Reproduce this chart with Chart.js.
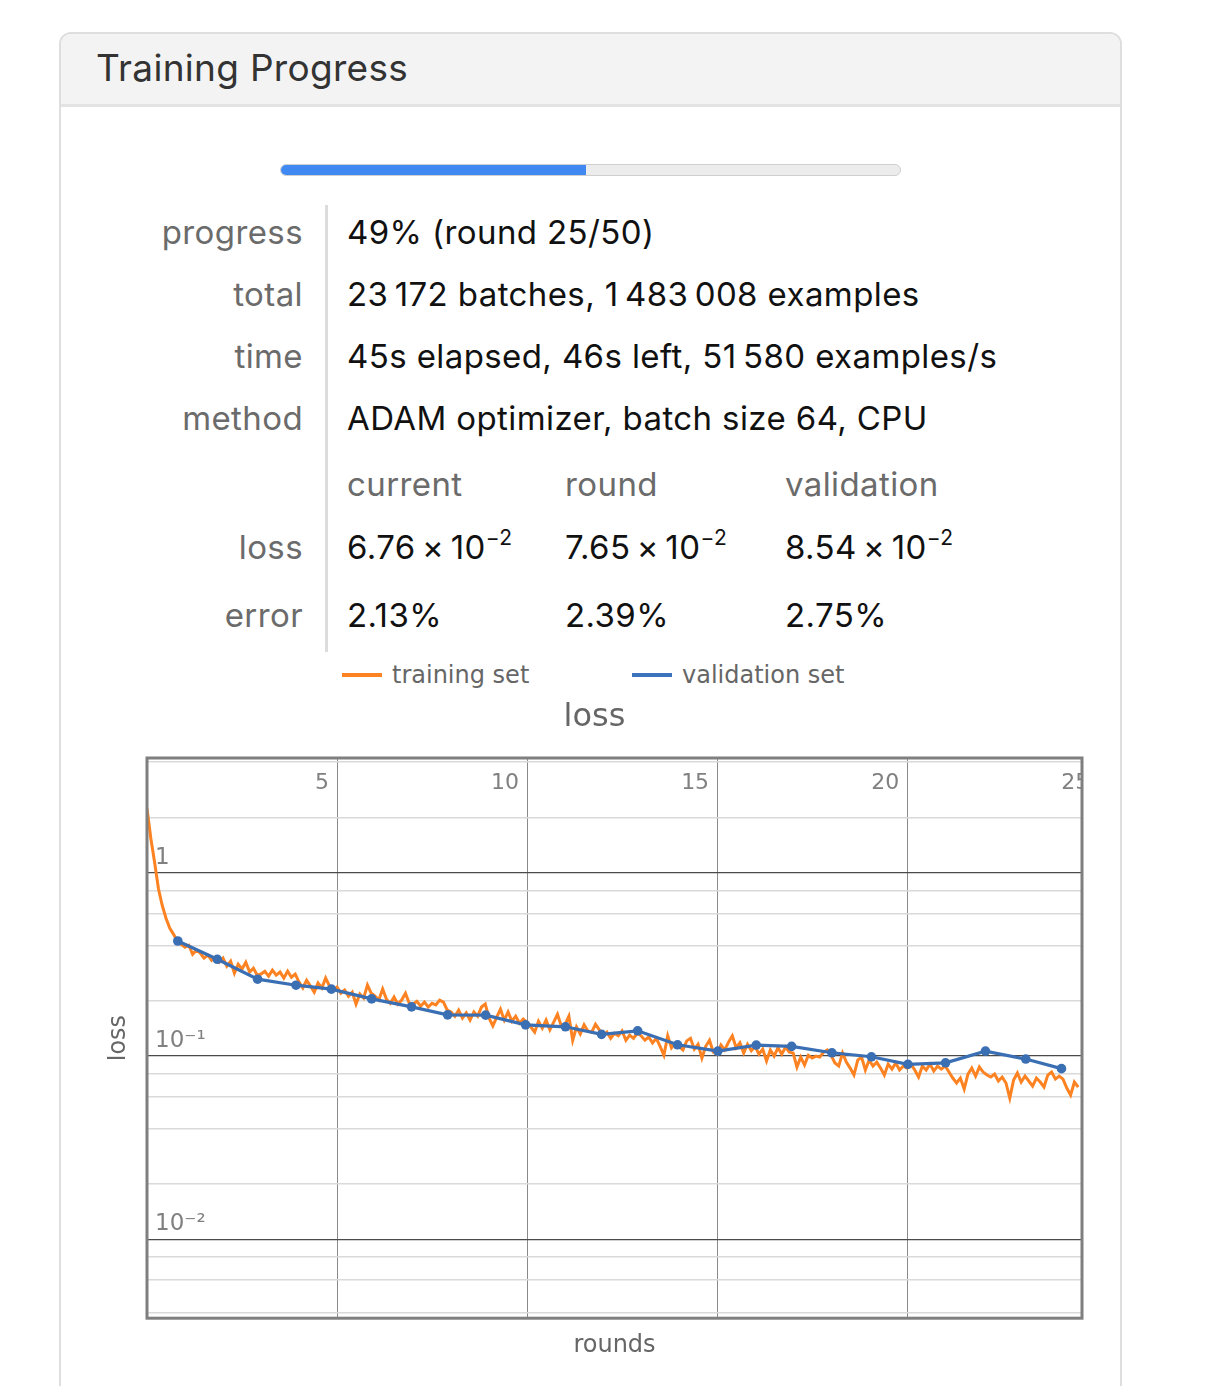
<!DOCTYPE html>
<html>
<head>
<meta charset="utf-8">
<script src="https://cdn.jsdelivr.net/npm/chart.js@4.4.1/dist/chart.umd.min.js"></script>
<style>
  body { margin: 0; background: #fff; width: 1222px; height: 1386px; overflow: hidden; position: relative;
         font-family: Inter, "Noto Sans", sans-serif; }
  .card { position: absolute; left: 59px; top: 32px; width: 1059px; height: 1400px;
          border: 2px solid #dedede; border-radius: 12px; background: #fff; overflow: hidden; }
  .head { height: 70px; background: #f3f3f3; border-bottom: 3px solid #e3e3e3; }
  .head span { position: absolute; left: 35px; top: 11px; font-size: 37px; letter-spacing: 0.3px; color: #333; }
  .track { position: absolute; left: 280px; top: 164px; width: 619px; height: 10px;
           background: #ececec; border: 1px solid #cfcfcf; border-radius: 6px; overflow: hidden; }
  .fill { width: 49.3%; height: 100%; background: #4088f2; }
  .lbl, .val { position: absolute; height: 40px; line-height: 40px; font-size: 33px; letter-spacing: 0.4px; white-space: nowrap; }
  .lbl { left: 60px; width: 243px; text-align: right; color: #6b6b6b; }
  .val { color: #111; }
  .hdr { color: #6b6b6b; }
  .val sup { font-size: 21px; vertical-align: 14px; line-height: 0; }
  .divider { position: absolute; left: 325px; top: 205px; width: 3px; height: 447px; background: #dcdcdc; }
  .leg { position: absolute; top: 659px; height: 32px; line-height: 32px; font-family: "DejaVu Sans"; font-size: 24px;
         color: #666; white-space: nowrap; width: 260px; }
  .leg i { position: absolute; top: 14px; width: 40px; height: 4px; }
  .leg span { position: absolute; left: 50px; }
  #wrap { position: absolute; left: 107px; top: 702px; width: 990px; height: 658px; }
</style>
</head>
<body>
<div class="card"><div class="head"><span>Training Progress</span></div></div>
<div class="track"><div class="fill"></div></div>

<div class="divider"></div>
<div class="lbl" style="top:212px">progress</div>
<div class="val" style="left:347px;top:212px">49% (round 25/50)</div>
<div class="lbl" style="top:274px">total</div>
<div class="val" style="left:347px;top:274px">23&#8201;172 batches, 1&#8201;483&#8201;008 examples</div>
<div class="lbl" style="top:336px">time</div>
<div class="val" style="left:347px;top:336px">45s elapsed, 46s left, 51&#8201;580 examples/s</div>
<div class="lbl" style="top:398px">method</div>
<div class="val" style="left:347px;top:398px">ADAM optimizer, batch size 64, CPU</div>

<div class="val hdr" style="left:347px;top:464px">current</div>
<div class="val hdr" style="left:565px;top:464px">round</div>
<div class="val hdr" style="left:785px;top:464px">validation</div>

<div class="lbl" style="top:527px">loss</div>
<div class="val" style="left:347px;top:527px">6.76&#8201;×&#8201;10<sup>−2</sup></div>
<div class="val" style="left:565px;top:527px">7.65&#8201;×&#8201;10<sup>−2</sup></div>
<div class="val" style="left:785px;top:527px">8.54&#8201;×&#8201;10<sup>−2</sup></div>

<div class="lbl" style="top:595px">error</div>
<div class="val" style="left:347px;top:595px">2.13%</div>
<div class="val" style="left:565px;top:595px">2.39%</div>
<div class="val" style="left:785px;top:595px">2.75%</div>

<div class="leg" style="left:342px"><i style="background:#fd8221"></i><span>training set</span></div>
<div class="leg" style="left:632px"><i style="background:#3b74bd"></i><span>validation set</span></div>

<div id="wrap"><canvas id="lossChart"></canvas></div>

<script>
// training loss, one reading every 0.1 round
const trainStep = 0.1;
const trainLoss = [
  2.24, 1.54, 1.14, 0.82, 0.664, 0.564, 0.497, 0.461,
  0.423, 0.407, 0.392, 0.402, 0.359, 0.378, 0.364, 0.342, 0.355, 0.333, 0.346,
  0.325, 0.342, 0.309, 0.329, 0.283, 0.317, 0.298, 0.325, 0.287, 0.301, 0.276,
  0.280, 0.290, 0.273, 0.294, 0.276, 0.287, 0.266, 0.290, 0.269, 0.280,
  0.253, 0.235, 0.259, 0.241, 0.223, 0.250, 0.235, 0.266, 0.241,
  0.229, 0.238, 0.220, 0.229, 0.212, 0.223, 0.192, 0.218, 0.207, 0.244, 0.220,
  0.212, 0.202, 0.232, 0.204, 0.194, 0.210, 0.192, 0.202, 0.220, 0.194,
  0.192, 0.199, 0.187, 0.197, 0.185, 0.194, 0.190, 0.202, 0.197, 0.178,
  0.174, 0.165, 0.178, 0.161, 0.172, 0.157, 0.174, 0.165, 0.185, 0.192,
  0.161, 0.146, 0.163, 0.180, 0.157, 0.174, 0.155, 0.165, 0.151, 0.159,
  0.153, 0.144, 0.135, 0.155, 0.142, 0.157, 0.139, 0.153, 0.169, 0.146,
  0.149, 0.165, 0.122, 0.144, 0.132, 0.148, 0.137, 0.135, 0.149, 0.139,
  0.129, 0.135, 0.125, 0.133, 0.129, 0.137, 0.122, 0.130, 0.125, 0.133,
  0.129, 0.122, 0.127, 0.118, 0.125, 0.113, 0.101, 0.129, 0.111, 0.118,
  0.113, 0.108, 0.121, 0.125, 0.109, 0.116, 0.0975, 0.113, 0.122, 0.105,
  0.1025, 0.115, 0.108, 0.119, 0.129, 0.111, 0.118, 0.104, 0.116, 0.107,
  0.113, 0.1025, 0.109, 0.094, 0.108, 0.100, 0.111, 0.1025, 0.112, 0.105,
  0.104, 0.087, 0.0987, 0.0893, 0.101, 0.0975, 0.100, 0.0987, 0.105, 0.108,
  0.101, 0.0916, 0.0882, 0.104, 0.0927, 0.086, 0.0788, 0.0951, 0.0987, 0.0839,
  0.0951, 0.0882, 0.0927, 0.086, 0.0788, 0.0904, 0.0849, 0.0916, 0.0839, 0.0882,
  0.086, 0.0904, 0.0839, 0.0768, 0.0882, 0.0839, 0.0904, 0.0828, 0.0882, 0.0849,
  0.0882, 0.0818, 0.0759, 0.0713, 0.0759, 0.0661, 0.0798, 0.086, 0.0778, 0.0871,
  0.0818, 0.0788, 0.0768, 0.0798, 0.0731, 0.0768, 0.0713, 0.059, 0.074, 0.0808,
  0.0722, 0.0778, 0.0731, 0.0686, 0.0759, 0.0722, 0.0678, 0.0788, 0.0818, 0.0749,
  0.0778, 0.0749, 0.0669, 0.0613, 0.0722, 0.0676
];

// validation loss, measured at the end of each round
const valRounds = [0.81, 1.85, 2.91, 3.92, 4.85, 5.91, 6.96, 7.91, 8.91, 9.96, 11.01, 11.96,
  12.91, 13.96, 15.02, 16.03, 16.96, 18.02, 19.06, 20.02, 21.01, 22.06, 23.12, 24.06];
const valLoss = [0.424, 0.337, 0.2625, 0.2434, 0.2316, 0.205, 0.1855, 0.1678, 0.1671, 0.148, 0.1444, 0.1313,
  0.1373, 0.1152, 0.1064, 0.1148, 0.1129, 0.1042, 0.0991, 0.0901, 0.0919, 0.1064, 0.0963, 0.0854];

const roundTicks = [0, 5, 10, 15, 20, 25];
const lossTicks = [0.004, 0.006, 0.008, 0.01, 0.02, 0.04, 0.06, 0.08, 0.1, 0.2, 0.4, 0.6, 0.8, 1, 2, 4];
const majorLabels = {1: '1', 0.1: '10⁻¹', 0.01: '10⁻²'};

const orange = '#fd8221';
const blue = '#3b6fb3';
const roundsMax = 24.6;

// grey box round the plot; the tick label past the right edge is cut off by it
const frame = {
  id: 'frame',
  afterDraw(chart) {
    const a = chart.chartArea;
    const c = chart.ctx;
    c.save();
    c.fillStyle = '#fff';
    c.fillRect(a.right, a.top, chart.width - a.right, a.bottom - a.top);
    c.strokeStyle = '#7f7f7f';
    c.lineWidth = 3;
    c.strokeRect(a.left, a.top, a.right - a.left, a.bottom - a.top);
    c.restore();
  }
};

new Chart(document.getElementById('lossChart'), {
  type: 'line',
  data: {
    datasets: [
      {
        label: 'training set',
        data: trainLoss.map((v, i) => ({x: i * trainStep, y: v})),
        borderColor: orange,
        backgroundColor: orange,
        borderWidth: 3,
        pointRadius: 0,
        tension: 0,
        order: 1
      },
      {
        label: 'validation set',
        data: valRounds.map((r, i) => ({x: r, y: valLoss[i]})),
        borderColor: blue,
        backgroundColor: blue,
        borderWidth: 3.2,
        pointRadius: 4.8,
        pointBorderWidth: 0,
        tension: 0,
        order: 0
      }
    ]
  },
  options: {
    responsive: true,
    maintainAspectRatio: false,
    animation: false,
    layout: {padding: {left: 0, right: 15, top: 0, bottom: 0}},
    plugins: {
      legend: {display: false},
      tooltip: {enabled: false},
      title: {
        display: true,
        text: 'loss',
        color: '#666',
        font: {family: 'DejaVu Sans', size: 32, weight: 'normal', lineHeight: 1},
        padding: {top: 0, bottom: 0}
      }
    },
    scales: {
      x: {
        type: 'linear',
        position: 'top',
        min: 0,
        max: roundsMax,
        afterBuildTicks: axis => { axis.ticks = roundTicks.map(v => ({value: v})); },
        afterFit: axis => { axis.paddingLeft = 0; axis.paddingRight = 0; },
        grid: {
          drawTicks: false,
          color: c => (c.tick && c.tick.value > roundsMax ? 'rgba(0,0,0,0)' : '#8a8a8a'),
          lineWidth: 1
        },
        border: {display: false},
        ticks: {
          mirror: true,
          padding: 12,
          align: 'end',
          labelOffset: -8,
          color: '#808080',
          font: {family: 'DejaVu Sans', size: 22},
          callback: v => (v === 0 ? '' : v)
        }
      },
      x2: {
        type: 'linear',
        position: 'bottom',
        min: 0,
        max: roundsMax,
        grid: {display: false, drawTicks: false},
        border: {display: false},
        ticks: {display: false},
        title: {
          display: true,
          text: 'rounds',
          color: '#666',
          font: {family: 'DejaVu Sans', size: 24, lineHeight: 1.2},
          padding: {top: 13, bottom: 0}
        }
      },
      y: {
        type: 'logarithmic',
        position: 'left',
        min: 0.00372,
        max: 4.22,
        afterBuildTicks: axis => { axis.ticks = lossTicks.map(v => ({value: v})); },
        grid: {
          drawTicks: false,
          color: c => (majorLabels[c.tick.value] ? '#4a4a4a' : '#dadada'),
          lineWidth: c => (majorLabels[c.tick.value] ? 1.2 : 1.6)
        },
        border: {display: false},
        ticks: {
          mirror: true,
          padding: 8,
          labelOffset: -15,
          autoSkip: false,
          color: '#808080',
          font: {family: 'DejaVu Sans', size: 23},
          callback: v => majorLabels[v] || ''
        },
        title: {
          display: true,
          text: 'loss',
          color: '#666',
          font: {family: 'DejaVu Sans', size: 24, lineHeight: 1},
          padding: {top: 0, bottom: 0}
        }
      }
    }
  },
  plugins: [frame]
});
</script>
</body>
</html>
